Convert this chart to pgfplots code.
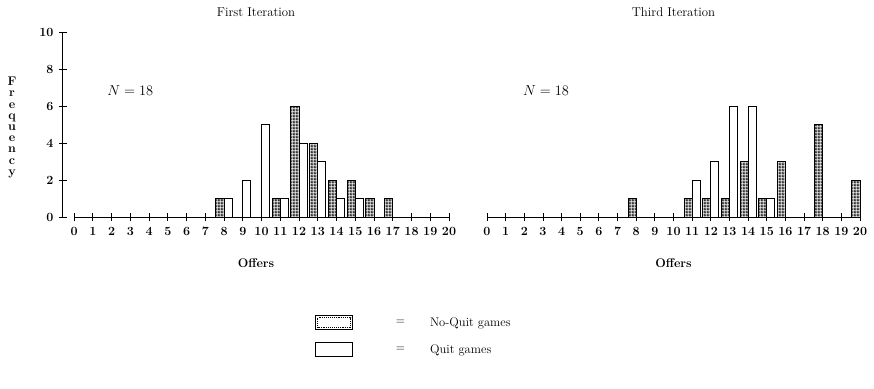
\documentclass[border=0pt]{standalone}
\usepackage{pgfplots}
\pgfplotsset{compat=1.18}
\usetikzlibrary{patterns}
\pgfdeclarepatternformonly{holes}{\pgfpointorigin}{\pgfqpoint{2.6pt}{2.6pt}}{\pgfqpoint{2.6pt}{2.6pt}}{%
  \pgfseteorule
  \pgfpathrectangle{\pgfpointorigin}{\pgfqpoint{2.6pt}{2.6pt}}%
  \pgfpathrectangle{\pgfqpoint{0.7pt}{0.7pt}}{\pgfqpoint{1.2pt}{1.2pt}}%
  \pgfusepath{fill}}
\newcommand{\lblfont}{\fontsize{12.5}{14}\selectfont}
\pgfplotsset{
  nqbar/.style={draw=black, line width=1pt, pattern=holes, pattern color=black!85, bar shift=-0.215},
  qbar/.style={draw=black, line width=0.9pt, fill=white, bar shift=0.215},
  common/.style={
    scale only axis, height=185pt, ymin=0, ymax=10,
    ybar, bar width=0.43,
    xtick={0,...,20}, tick align=outside, major tick length=8pt,
    tick style={black, line width=0.9pt},
    axis line style={line width=1pt, -},
    /pgf/number format/assume math mode=true,
    tick label style={font=\lblfont\bfseries},
    xticklabel style={yshift=-3pt, inner xsep=0pt},
    yticklabel style={xshift=-2pt},
    label style={font=\lblfont\bfseries},
    title style={font=\fontsize{12.8}{14}\selectfont, yshift=6pt},
    xlabel={Offers},
    xlabel style={yshift=-16pt},
    clip=false,
  },
}
\begin{document}
\begin{tikzpicture}
\useasboundingbox (0,0) rectangle (874pt,-388pt);
\begin{axis}[common,
  at={(63pt,-217pt)}, anchor=south west,
  width=386pt, xmin=-0.59, xmax=20,
  axis x line=bottom, axis y line=left,
  x axis line style={-, shorten <=11pt},
  y axis line style={-},
  ytick={0,2,...,10},
  title={First Iteration},
  ylabel={F\\r\\e\\q\\u\\e\\n\\c\\y},
  every axis y label/.style={at={(axis description cs:0,0.5)}, anchor=center,
     xshift=-51pt, yshift=-3pt, align=center, font=\fontsize{12.5}{11.2}\selectfont\bfseries},
  legend style={at={(rel axis cs:0.653,-0.53)}, anchor=north west, draw=none, fill=none,
     inner sep=0pt, row sep=12pt, font=\lblfont, legend cell align=left},
]
\addlegendimage{legend image code/.code={
   \draw[line width=0.9pt, fill=white] (0pt,-7pt) rectangle (37pt,7pt);
   \draw[line width=0.9pt, densely dotted] (1.8pt,-5.2pt) rectangle (35.2pt,5.2pt);
   \node at (78pt,0pt) {$=$};}}
\addlegendentry{\hspace*{21pt}No-Quit games}
\addlegendimage{legend image code/.code={
   \draw[line width=0.9pt, fill=white] (0pt,-7pt) rectangle (37pt,7pt);
   \node at (78pt,0pt) {$=$};}}
\addlegendentry{\hspace*{21pt}Quit games}
\addplot[nqbar, forget plot]
  coordinates {(8,1) (11,1) (12,6) (13,4) (14,2) (15,2) (16,1) (17,1)};
\addplot[qbar, forget plot]
  coordinates {(8,1) (9,2) (10,5) (11,1) (12,4) (13,3) (14,1) (15,1)};
\node[font=\fontsize{13.5}{15}\selectfont] at (axis cs:3.0,6.86) {$N = 18$};
\end{axis}
\begin{axis}[common,
  at={(487pt,-217pt)}, anchor=south west,
  width=373pt, xmin=0, xmax=20,
  axis x line=bottom, axis y line=none,
  x axis line style={-},
  ytick=\empty,
  title={Third Iteration},
]
\addplot[nqbar]
  coordinates {(8,1) (11,1) (12,1) (13,1) (14,3) (15,1) (16,3) (18,5) (20,2)};
\addplot[qbar]
  coordinates {(11,2) (12,3) (13,6) (14,6) (15,1)};
\node[font=\fontsize{13.5}{15}\selectfont] at (axis cs:3.16,6.86) {$N = 18$};
\end{axis}
\end{tikzpicture}
\end{document}
